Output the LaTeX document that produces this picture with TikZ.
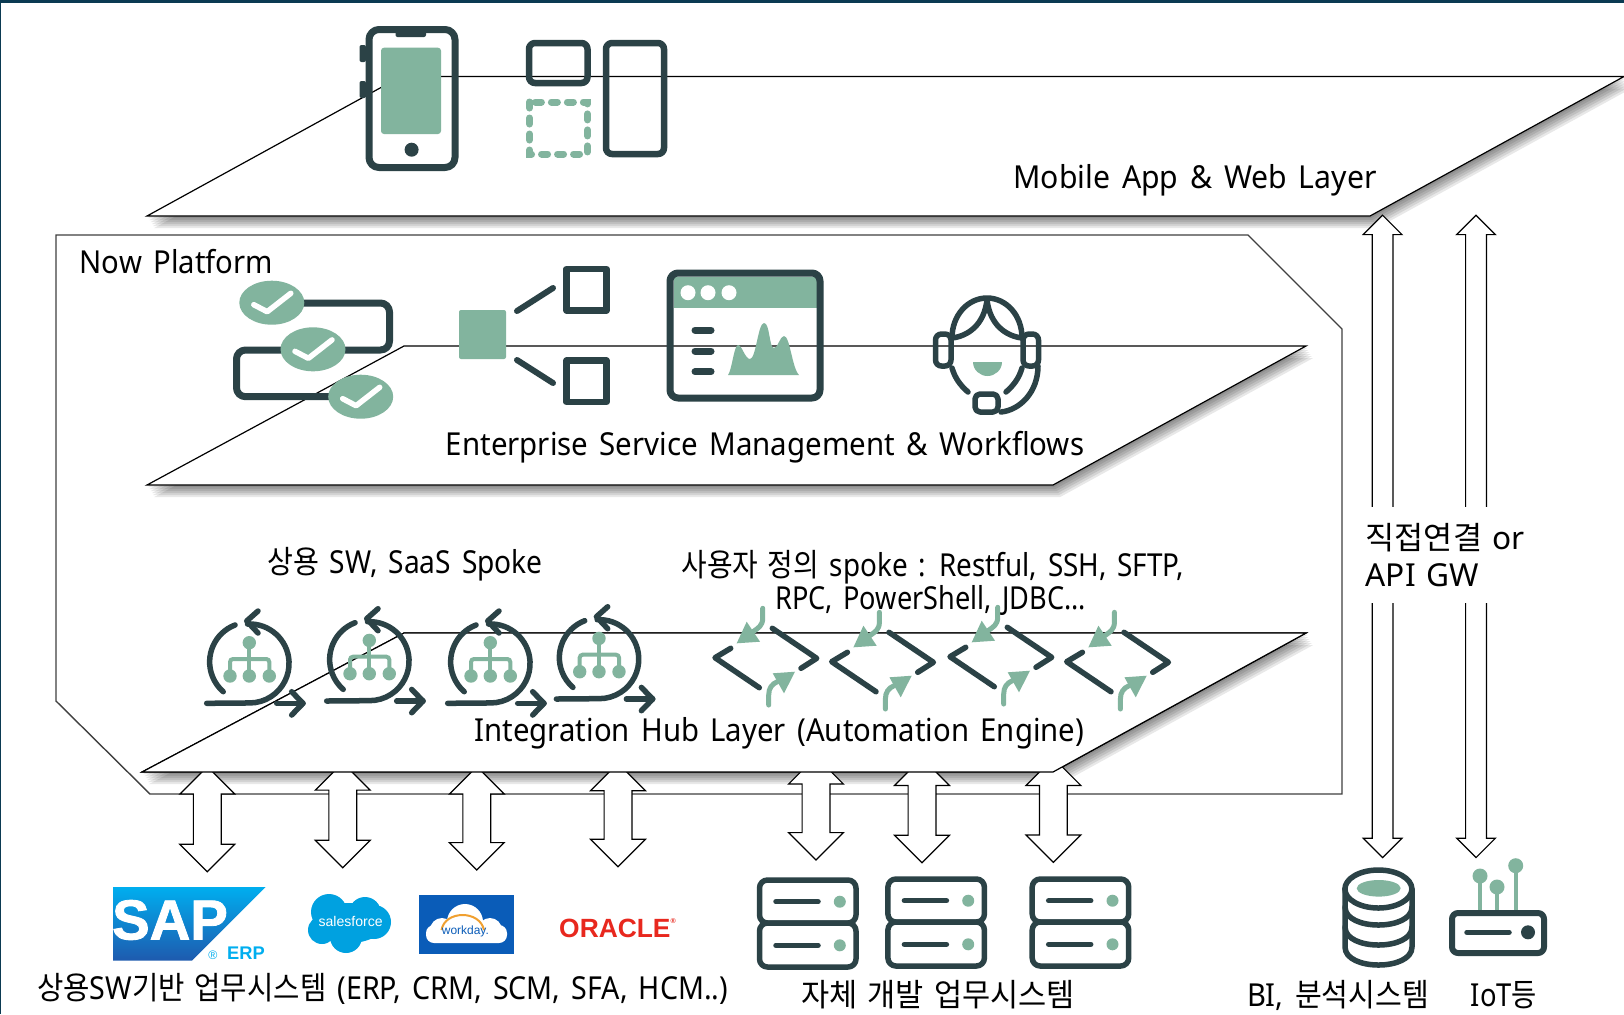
\documentclass[tikz,border=0pt]{standalone}
\usepackage{fontspec}
\setmainfont{Noto Sans}[WordSpace=1.5]
\newfontfamily\krfont{Noto Sans CJK KR}[WordSpace=1.5]
\newfontfamily\logofont{Liberation Sans}
\newfontfamily\heavyfont{Liberation Sans}[UprightFont=* Bold, FakeBold=1.5]
\usetikzlibrary{shapes.arrows}

\definecolor{icondark}{HTML}{2B4246}
\definecolor{icongreen}{HTML}{82B49E}
\definecolor{edgeblue}{HTML}{0B3A52}
\definecolor{sapblue}{HTML}{00AEEF}
\definecolor{sapdeep}{HTML}{1E5AAE}
\definecolor{sfblue}{HTML}{00A1E0}
\definecolor{wdblue}{HTML}{0A5CB8}
\definecolor{wdorange}{HTML}{F0A030}
\definecolor{orared}{HTML}{E8281E}

\begin{document}
\begin{tikzpicture}[
  x=0.01cm, y=-0.01cm,
  layerplane/.style = {draw=black, fill=white, line width=.012cm},
  frameline/.style = {draw=black!75, line width=.014cm},
  darkline/.style = {draw=icondark, line width=.055cm, line cap=round, line join=round},
  greenline/.style = {draw=icongreen, line width=.045cm, line cap=round},
  caption/.style = {inner sep=0, transform shape, font=\fontsize{9}{11}\selectfont},
  dblarrow/.style = {
    shape=double arrow, draw=black, fill=white, line width=.012cm,
    rotate=90, inner xsep=0, outer sep=0,
    double arrow tip angle=90
  },
  bigarrow/.style = {dblarrow, inner ysep=.133cm, double arrow head extend=.135cm},
  thinarrow/.style = {dblarrow, inner ysep=.098cm, double arrow head extend=.09cm}
]
\useasboundingbox (0,0) rectangle (1624,1014);
\fill[white] (0,0) rectangle (1624,1014);
\fill[edgeblue] (0,0) rectangle (1624,3);
\fill[edgeblue] (0,0) rectangle (1.5,1014);

% ======================================================
% PLATFORM FRAME AND LAYERS
% ======================================================

\draw[frameline] (56,235) -- (1248,235) -- (1342,329) -- (1342,794) -- (150,794) -- (56,701) -- cycle;

\foreach \lb/\rb/\rt/\lt/\yt/\yb in {147/1370/1624/401/76.5/216, 147/1053/1306/404/346/485, 142/1053/1306/404/633/772}{
  \foreach \s in {2,4,...,12}
    \fill[black, opacity=.09, shift={(.6*\s,\s)}] (\lb,\yb) -- (\rb,\yb) -- (\rt,\yt) -- (\lt,\yt) -- cycle;
  \draw[layerplane] (\lb,\yb) -- (\rb,\yb) -- (\rt,\yt) -- (\lt,\yt) -- cycle;
}

% ---- Block arrows ----
\foreach \name/\cx/\ytop/\ybot in {sap/207.3/766.6/871.7, sforce/342.8/762.7/867.7, wday/476.8/766.6/870, oracle/618/763.3/866.7, srvone/816/756.6/860, srvtwo/922/758/862.7, srvthree/1053.4/758/862.3}
  \node[bigarrow, minimum height={(\ybot-\ytop)*.01cm}] (arrow\name) at (\cx,{(\ytop+\ybot)/2}) {};

\node[thinarrow, minimum height=6.42cm] (arrowbi) at (1382.6,536.4) {};
\node[thinarrow, minimum height=6.42cm] (arrowiot) at (1476,536.4) {};

% integration layer again, it hides the upper arrow tips
\draw[layerplane] (142,772) -- (1053,772) -- (1306,633) -- (404,633) -- cycle;

% ---- Labels ----
\node[caption, anchor=west, xscale=.925] (nowlabel) at (79,262) {Now Platform};
\node[caption, xscale=.954] (mobilelabel) at (1195,180) {Mobile App \& Web Layer};
\node[caption, xscale=.93] (esmlabel) at (765,447) {Enterprise Service Management \& Workflows};
\node[caption, xscale=.926] (hublabel) at (779.4,733) {Integration Hub Layer (Automation Engine)};
\node[caption, xscale=.889] (saaslabel) at (405,564) {{\krfont 상용} SW, SaaS Spoke};
\node[caption, xscale=.88] (customlabel) at (932.6,567) {{\krfont 사용자 정의} spoke : Restful, SSH, SFTP,};
\node[caption, xscale=.857] (customlabeltwo) at (930.6,600) {RPC, PowerShell, JDBC...};
\node[caption, fill=white, align=left, anchor=west, minimum height=.96cm, text width=1.7cm] (directlabel) at (1365,555)
  {{\krfont 직접연결} or\\[-.7pt]API GW};
\node[caption, xscale=.905] (saplabel) at (382.7,989) {{\krfont 상용}SW{\krfont 기반 업무시스템} (ERP, CRM, SCM, SFA, HCM..)};
\node[caption, xscale=.967] (ownlabel) at (938,995) {\krfont 자체 개발 업무시스템};
\node[caption, xscale=.92] (bilabel) at (1338,995) {BI, {\krfont 분석시스템}};
\node[caption, xscale=.865] (iotlabel) at (1504,995) {IoT{\krfont 등}};

% ======================================================
% MOBILE ICONS
% ======================================================

\draw[darkline, line width=.07cm, rounded corners=.1cm] (369,29.5) rectangle (455,167.5);
\fill[icondark, rounded corners=.02cm] (395.5,29) rectangle (426,37);
\fill[icondark, rounded corners=.02cm] (359.5,45) rectangle (366,62);
\fill[icondark, rounded corners=.02cm] (359.5,81) rectangle (366,98);
\fill[icongreen, rounded corners=.03cm] (381,47.7) rectangle (441,134);
\fill[icondark] (411.6,149.7) circle[radius=7];

\draw[darkline, line width=.065cm, rounded corners=.06cm] (529,43) rectangle (587.5,83);
\draw[darkline, line width=.065cm, rounded corners=.06cm] (606,43) rectangle (664,154);
\draw[greenline, line width=.07cm, dash pattern=on .06cm off .1cm] (529.5,102) rectangle (587.5,154);

% ======================================================
% SERVICE MANAGEMENT ICONS
% ======================================================

\draw[darkline, line width=.07cm, rounded corners=.09cm] (272,303) -- (389.5,303) -- (389.5,350) -- (236.5,350) -- (236.5,396.7) -- (361,396.7);
\foreach \cx/\cy in {271.8/302.7, 313/349.3, 360.7/396.7}{
  \fill[icongreen] (\cx,\cy) ellipse[x radius=32.5, y radius=22];
  \draw[draw=white, line width=.055cm, line cap=round, line join=round] (\cx-18,\cy+2) -- (\cx-4.6,\cy+9) -- (\cx+19,\cy-9.4);
}

\fill[icongreen, rounded corners=.02cm] (459,310) rectangle (506,359);
\draw[darkline, line width=.065cm, line cap=butt] (566.5,269) rectangle (606.5,310.5);
\draw[darkline, line width=.065cm, line cap=butt] (566.5,360.5) rectangle (606.5,402);
\draw[darkline, line width=.06cm] (517,311) -- (553,288);
\draw[darkline, line width=.06cm] (517,360) -- (553,383);

\fill[icongreen] (673.6,277) rectangle (817,308);
\draw[darkline, line width=.07cm, rounded corners=.08cm] (670,273) rectangle (820,398);
\foreach \cx in {688,708,729}
  \fill[white] (\cx,292.7) circle[radius=7.5];
\foreach \cy in {330,351,371.7}
  \draw[darkline, line width=.07cm] (695,\cy) -- (711,\cy);
\fill[icongreen] (728,375) .. controls (732,370) and (734,345) .. (738,345) .. controls (742,345) and (745,359) .. (750,359) .. controls (756,359) and (758,323) .. (764,323) .. controls (770,323) and (769,348) .. (774,348) .. controls (778,348) and (780,336) .. (784,336) .. controls (790,336) and (792,368) .. (799,375) -- cycle;

% headset person
\draw[darkline] (952,338) .. controls (952,315) and (968,298) .. (987,298) .. controls (1006,298) and (1022,315) .. (1022,338);
\draw[darkline] (952,338) .. controls (968,336) and (984,325) .. (987,300) .. controls (990,325) and (1006,336) .. (1022,338);
\draw[darkline, rounded corners=.06cm] (935.5,334) rectangle (951,366);
\draw[darkline, rounded corners=.06cm] (1023,334) rectangle (1038.5,366);
\draw[darkline] (952,368) .. controls (955,378) and (960,385) .. (968,392);
\draw[darkline] (1022,368) .. controls (1019,378) and (1014,385) .. (1006,392);
\draw[darkline] (1038,366) .. controls (1038,392) and (1020,410) .. (1001,412);
\draw[darkline, rounded corners=.05cm] (975,412) -- (975,394) -- (998,394) -- (998,412) -- cycle;
\fill[icongreen] (973,362) -- (1002,362) .. controls (1002,370) and (995,376) .. (987.5,376) .. controls (980,376) and (973,370) .. (973,362) -- cycle;

% ======================================================
% INTEGRATION HUB ICONS
% ======================================================

\foreach \dx/\dy in {0/0, 120/-2.3, 241/0, 349.7/-4.3}{
  \begin{scope}[shift={(\dx,\dy)}]
    \draw[darkline] (235,625) arc[start angle=249, end angle=131, radius=39.5];
    \draw[darkline] (247.5,624) arc[start angle=-93, end angle=90, radius=39.5] -- (206.7,703.3);
    \draw[darkline] (258,611) -- (246.7,621) -- (258,633);
    \draw[darkline] (276.7,703.3) -- (303,703.3);
    \draw[darkline] (291.7,691.7) -- (303,703.3) -- (291.7,715);
    \fill[icongreen] (249.3,642.7) circle[radius=6.7];
    \draw[greenline, line width=.04cm, rounded corners=.03cm] (230,676) -- (230,659) -- (269.3,659) -- (269.3,676);
    \draw[greenline, line width=.04cm] (249.3,642.7) -- (249.3,676);
    \foreach \cx in {230,249.3,269.3}
      \fill[icongreen] (\cx,676) circle[radius=6.7];
  \end{scope}
}

\foreach \dx/\dy in {0/0, 116.7/4, 235/-1, 351.7/4}{
  \begin{scope}[shift={(\dx,\dy)}]
    \draw[darkline] (730.7,648.3) -- (715,657.7) -- (759.3,687.7);
    \draw[darkline] (772.3,628.3) -- (816.7,658.3) -- (801,668.3);
    \draw[greenline, line width=.05cm] (762.7,608.3) -- (762.7,618) .. controls (762.7,626) and (758,628) .. (753,631.7);
    \fill[icongreen] (746.7,621.7) -- (760,641.7) -- (736.7,643.3) -- cycle;
    \draw[greenline, line width=.05cm] (768.7,705) -- (768.7,695) .. controls (768.7,688) and (772,684) .. (777.3,681.7);
    \fill[icongreen] (795,671.7) -- (784,693.3) -- (772.7,673.3) -- cycle;
  \end{scope}
}

% ======================================================
% BOTTOM SYSTEMS
% ======================================================

% SAP
\shade[top color=sapblue, bottom color=sapdeep] (113,887) -- (265.6,887) -- (192,960.7) -- (113,960.7) -- cycle;
\node[inner sep=0, text=white, font=\heavyfont\fontsize{16}{16}\selectfont] (saplogo) at (170,920) {SAP};
\node[inner sep=0, text=sapblue, font=\logofont\bfseries\fontsize{5.2}{6}\selectfont] (saperp) at (246,953.5) {ERP};
\node[inner sep=0, text=sapblue, font=\logofont\fontsize{3.5}{4}\selectfont] (sapmark) at (213,955) {®};

% salesforce
\fill[sfblue] (349,923) ellipse[x radius=36, y radius=20]
  (329,912) circle[radius=18] (365,913) circle[radius=16] (374,922) circle[radius=17]
  (346,937) circle[radius=16] (322,930) circle[radius=14];
\node[inner sep=0, text=white, font=\logofont\fontsize{4}{5}\selectfont] (sflogo) at (350.6,921) {salesforce};

% workday
\fill[wdblue] (419,895) rectangle (514,954.3);
\fill[white, rounded corners=.08cm] (426,925) rectangle (507,943);
\fill[white] (465,922) circle[radius=18] (442,930) circle[radius=12] (490,930) circle[radius=12];
\draw[draw=wdorange, line width=.02cm] (441.5,930) .. controls (445,910) and (480,910) .. (484,930);
\node[inner sep=0, text=wdblue, font=\logofont\fontsize{3.4}{4}\selectfont] (wdlogo) at (465.4,931.7) {workday.};

% oracle
\node[inner sep=0, text=orared, font=\logofont\bfseries\fontsize{7.5}{8}\selectfont] (oralogo) at (617.5,928) {ORACLE\raisebox{.5em}{\fontsize{2}{2}\selectfont ®}};

% servers
\foreach \dx/\dy in {0/0, 128.4/-1, 272.7/-1}{
  \begin{scope}[shift={(\dx,\dy)}]
    \draw[darkline, rounded corners=.08cm] (759.5,880) rectangle (856,923);
    \draw[darkline, rounded corners=.08cm] (759.5,923) rectangle (856,967);
    \foreach \cy in {901.7,945.3}{
      \draw[darkline] (776,\cy) -- (818,\cy);
      \fill[icongreen] (839.8,\cy) circle[radius=6];
    }
  \end{scope}
}

% database
\draw[darkline] (1378.4,889) ellipse[x radius=33.5, y radius=19];
\draw[darkline] (1345,889) -- (1345,947) .. controls (1345,971) and (1412,971) .. (1412,947) -- (1412,889);
\draw[darkline] (1345,907) .. controls (1345,931) and (1412,931) .. (1412,907);
\draw[darkline] (1345,927) .. controls (1345,951) and (1412,951) .. (1412,927);
\fill[icongreen] (1378.7,888.3) ellipse[x radius=22, y radius=8.3];

% IoT box
\draw[greenline, line width=.04cm] (1480,876) -- (1480,910);
\draw[greenline, line width=.04cm] (1497,887) -- (1497,910);
\draw[greenline, line width=.04cm] (1515.7,865.7) -- (1515.7,910);
\foreach \cx/\cy in {1480/876, 1497/887, 1515.7/865.7}
  \fill[icongreen] (\cx,\cy) circle[radius=7.5];
\draw[darkline, line width=.06cm, rounded corners=.06cm] (1452,913) rectangle (1544,953);
\draw[darkline, line width=.055cm] (1467,932.3) -- (1509,932.3);
\fill[icondark] (1528,932.3) circle[radius=7];

\end{tikzpicture}
\end{document}
